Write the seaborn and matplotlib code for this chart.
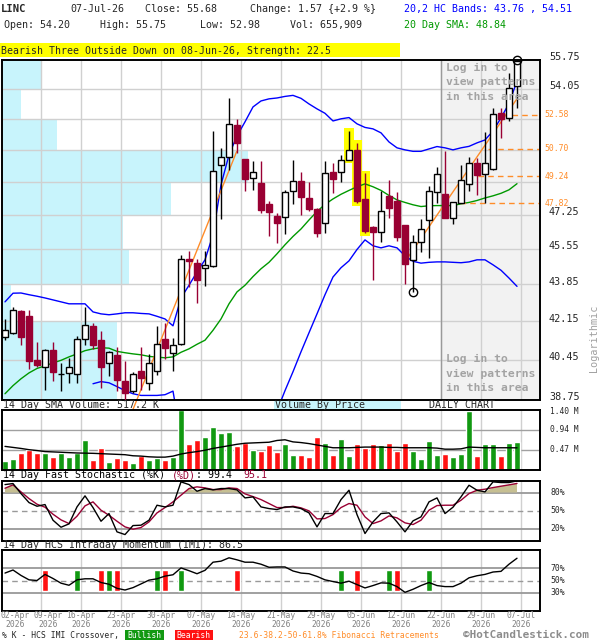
import numpy as np
import pandas as pd
import seaborn as sns
import matplotlib
matplotlib.use("Agg")
import matplotlib.pyplot as plt
from matplotlib import transforms
from matplotlib.patches import Rectangle

# ---------------- values ----------------
date_labels = ['02-Apr', '09-Apr', '16-Apr', '23-Apr', '30-Apr', '07-May', '14-May',
               '21-May', '29-May', '05-Jun', '12-Jun', '22-Jun', '29-Jun', '07-Jul']
date_year = '2026'
tick_idx = [0, 4, 9, 14, 19, 24, 29, 34, 39, 44, 49, 54, 59, 64]

opens = [41.45, 41.65, 42.64, 42.40, 40.45, 40.14, 40.89, 39.84, 39.88, 39.84,
         41.36, 41.95, 41.33, 40.33, 40.67, 39.56, 39.11, 39.98, 39.46, 39.95,
         41.36, 40.74, 41.14, 45.08, 44.86, 44.62, 44.70, 49.81, 50.28, 51.99,
         50.15, 49.13, 48.88, 47.80, 47.20, 47.12, 48.47, 48.99, 48.10, 47.56,
         46.81, 49.44, 49.46, 50.10, 50.64, 48.05, 46.64, 46.37, 48.21, 47.96,
         46.73, 45.02, 45.91, 46.98, 48.43, 48.30, 47.10, 47.86, 48.83, 49.94,
         49.33, 49.60, 52.67, 52.38, 54.20]
highs = [42.25, 42.82, 42.67, 42.67, 41.21, 40.92, 41.21, 40.31, 40.52, 41.51,
         42.82, 42.07, 41.74, 40.85, 41.03, 40.38, 39.91, 41.03, 40.71, 41.95,
         42.07, 41.40, 45.24, 45.47, 45.08, 45.47, 51.68, 50.73, 53.52, 52.33,
         50.15, 50.05, 50.05, 47.95, 47.32, 48.52, 50.10, 49.46, 48.93, 47.58,
         50.05, 49.92, 50.37, 51.69, 51.03, 49.39, 46.66, 48.47, 49.04, 48.42,
         46.75, 46.24, 47.03, 48.73, 49.72, 50.58, 47.91, 49.83, 50.23, 50.19,
         51.63, 52.95, 52.98, 54.97, 55.75]
lows = [41.33, 41.59, 41.11, 40.05, 40.16, 39.18, 39.53, 39.11, 39.46, 39.46,
        41.11, 40.92, 39.25, 39.74, 39.11, 38.76, 39.04, 39.18, 39.18, 39.81,
        40.48, 39.99, 41.10, 43.75, 43.01, 43.78, 44.68, 47.02, 49.56, 50.46,
        48.47, 48.52, 47.35, 46.19, 45.86, 46.27, 47.78, 47.24, 47.45, 46.12,
        46.32, 48.36, 48.95, 50.08, 47.83, 46.32, 44.06, 45.91, 47.10, 45.94,
        43.86, 43.48, 45.42, 45.13, 47.83, 47.08, 46.76, 47.84, 48.47, 48.26,
        47.83, 49.58, 51.31, 52.23, 52.98]
closes = [41.77, 42.67, 41.45, 40.42, 40.24, 40.89, 39.91, 39.86, 40.14, 41.36,
          41.98, 41.11, 40.16, 40.80, 39.60, 39.06, 39.85, 39.67, 40.33, 41.14,
          40.95, 41.10, 45.08, 44.97, 44.06, 44.77, 49.49, 50.25, 52.05, 51.00,
          49.11, 49.44, 47.50, 47.39, 46.84, 48.41, 48.99, 48.14, 47.56, 46.32,
          49.39, 49.08, 50.10, 50.64, 47.96, 46.45, 46.40, 47.44, 47.59, 46.15,
          44.81, 45.91, 46.51, 48.47, 49.35, 47.10, 47.88, 49.02, 49.94, 49.30,
          49.92, 52.61, 52.33, 54.11, 55.68]

sma20 = [39.01, 39.35, 39.64, 39.89, 40.08, 40.19, 40.32, 40.43, 40.58, 40.71,
         40.85, 40.93, 40.98, 40.96, 40.82, 40.76, 40.71, 40.67, 40.60, 40.57,
         40.54, 40.58, 40.78, 40.93, 41.13, 41.31, 41.75, 42.26, 42.95, 43.50,
         43.81, 44.22, 44.59, 44.90, 45.31, 45.75, 46.16, 46.53, 46.98, 47.41,
         47.77, 48.05, 48.29, 48.49, 48.68, 48.83, 48.68, 48.49, 48.23, 48.00,
         47.87, 47.75, 47.66, 47.70, 47.71, 47.71, 47.71, 47.80, 47.87, 47.97,
         48.10, 48.21, 48.34, 48.52, 48.84]
hc_upper = [43.04, 43.44, 43.45, 43.37, 43.30, 43.22, 43.13, 43.04, 42.95, 42.95,
            42.95, 42.58, 42.49, 42.45, 42.49, 42.54, 42.54, 42.51, 42.49, 42.38,
            42.26, 41.95, 43.22, 43.81, 44.44, 45.02, 46.24, 48.78, 50.37, 51.40,
            52.18, 53.02, 53.36, 53.48, 53.53, 53.62, 53.68, 53.51, 53.19, 52.91,
            52.66, 52.23, 52.35, 52.42, 52.07, 51.87, 51.79, 51.57, 51.07, 50.75,
            50.64, 50.56, 50.56, 50.69, 50.82, 50.75, 50.64, 50.75, 50.83, 51.02,
            51.18, 51.67, 52.40, 53.22, 54.51]
hc_lower = [np.nan, np.nan, np.nan, np.nan, np.nan, np.nan, np.nan, np.nan, np.nan, np.nan,
            np.nan, 39.43, 39.52, 39.47, 39.31, 39.14, 39.01, 38.94, 38.94, 38.94,
            38.97, 39.12, 37.20, 36.00, 35.00, 34.00, 33.00, 32.50, 32.50, 33.00,
            34.00, 35.20, 36.40, 37.50, 38.30, 39.14, 39.94, 40.80, 41.64, 42.49,
            43.37, 44.20, 44.64, 44.97, 45.52, 45.99, 45.70, 45.60, 45.70, 45.60,
            45.21, 44.95, 44.86, 44.90, 44.92, 44.92, 44.90, 44.88, 44.92, 45.02,
            45.02, 44.78, 44.52, 44.15, 43.76]

volume_m = [0.211, 0.268, 0.389, 0.478, 0.389, 0.397, 0.308, 0.397, 0.308, 0.397,
            0.697, 0.235, 0.511, 0.187, 0.284, 0.235, 0.162, 0.324, 0.235, 0.284,
            0.235, 0.308, 1.400, 0.600, 0.697, 0.770, 1.013, 0.867, 0.891, 0.551,
            0.640, 0.478, 0.454, 0.576, 0.430, 0.600, 0.357, 0.357, 0.308, 0.770,
            0.624, 0.357, 0.721, 0.332, 0.600, 0.503, 0.600, 0.576, 0.624, 0.454,
            0.624, 0.454, 0.260, 0.673, 0.357, 0.381, 0.308, 0.381, 1.377, 0.332,
            0.600, 0.600, 0.332, 0.624, 0.656]
vol_sma14 = [0.551, 0.527, 0.503, 0.474, 0.454, 0.430, 0.422, 0.414, 0.405, 0.397,
             0.393, 0.389, 0.381, 0.373, 0.365, 0.357, 0.332, 0.324, 0.308, 0.300,
             0.300, 0.324, 0.373, 0.405, 0.430, 0.462, 0.503, 0.535, 0.567, 0.600,
             0.624, 0.632, 0.640, 0.648, 0.689, 0.705, 0.656, 0.640, 0.616, 0.584,
             0.551, 0.519, 0.519, 0.519, 0.527, 0.535, 0.535, 0.535, 0.527, 0.527,
             0.519, 0.519, 0.519, 0.519, 0.511, 0.486, 0.486, 0.494, 0.535, 0.527,
             0.519, 0.519, 0.519, 0.519, 0.517]

stoch_k = [93.2, 94.9, 78.2, 63.2, 57.1, 59.9, 33.8, 22.1, 27.7, 56.0,
           74.4, 54.9, 32.1, 44.9, 14.4, 9.9, 24.9, 25.5, 33.8, 58.8,
           56.0, 58.8, 97.7, 93.2, 82.1, 86.6, 84.4, 86.6, 86.6, 84.4,
           71.0, 72.7, 56.0, 53.2, 51.6, 56.0, 56.0, 53.2, 46.0, 22.7,
           44.9, 44.9, 68.2, 83.8, 43.2, 11.6, 31.0, 44.9, 46.0, 31.0,
           14.4, 32.7, 39.4, 64.4, 71.0, 44.9, 55.5, 72.7, 92.1, 83.8,
           81.0, 97.7, 96.6, 96.6, 99.4]
stoch_d = [87.1, 92.7, 81.0, 69.9, 60.5, 55.5, 43.8, 34.4, 28.2, 40.5,
           57.7, 64.4, 50.5, 42.1, 32.1, 22.7, 18.8, 21.6, 31.0, 46.0,
           54.9, 64.4, 75.5, 86.6, 89.4, 87.7, 84.9, 84.9, 87.7, 86.6,
           77.7, 73.2, 68.2, 61.6, 54.9, 54.9, 57.1, 54.4, 49.4, 36.0,
           36.6, 43.2, 54.9, 61.6, 58.8, 39.4, 28.2, 32.7, 41.0, 37.7,
           29.4, 26.6, 33.8, 50.5, 58.2, 58.8, 58.8, 67.1, 78.2, 83.8,
           85.5, 88.2, 90.5, 92.7, 95.1]
imi = [62.2, 67.2, 58.3, 51.1, 50.0, 60.0, 53.3, 45.6, 42.2, 51.1,
       52.8, 52.8, 46.7, 43.9, 37.2, 34.4, 38.3, 44.4, 50.6, 52.8,
       57.2, 59.4, 70.6, 66.1, 61.1, 66.7, 80.0, 81.7, 87.2, 83.9,
       80.0, 80.0, 76.7, 71.7, 72.2, 72.2, 65.6, 62.2, 61.1, 56.7,
       51.1, 48.3, 45.6, 48.9, 43.3, 37.8, 41.7, 46.1, 45.6, 40.0,
       30.6, 35.6, 41.7, 46.7, 41.7, 40.0, 40.0, 45.6, 54.4, 57.8,
       60.0, 63.9, 65.0, 76.7, 86.5]
bull_cross_idx = [9, 13, 19, 22, 42, 48, 53]
bear_cross_idx = [5, 12, 14, 20, 29, 44, 49]

price_grid = [54.05, 52.35, 50.65, 48.95, 47.25, 45.55, 43.85, 42.15, 40.45]
price_labels = [55.75, 54.05, 47.25, 45.55, 43.85, 42.15, 40.45, 38.75]
vbp_edges = [55.75, 54.05, 52.35, 50.65, 48.95, 47.25, 45.55, 43.85, 42.15, 40.45, 38.75]
vbp_volume = [40, 19, 55, 246, 169, 121, 127, 9, 115, 115]

fib_levels = [52.58, 50.70, 49.24, 47.82]
fib_from_idx = [63.4, 60.4, 59.1, 56.9]
trend1_idx, trend1_price = [15.875, 28.96], [38.26, 50.55]
trend2_idx, trend2_price = [50.0, 64.06], [44.93, 53.53]
swing_idx, swing_price = [51, 64], [43.48, 55.75]
pattern_idx = [43, 44, 45]
login_from_idx = 54.5

df = pd.DataFrame({'open': opens, 'high': highs, 'low': lows, 'close': closes,
                   'sma20': sma20, 'upper': hc_upper, 'lower': hc_lower,
                   'volume': volume_m, 'vol_sma': vol_sma14,
                   'k': stoch_k, 'd': stoch_d, 'imi': imi})
df['idx'] = np.arange(len(df))
df['dir'] = np.where(df['close'] >= df['open'], 'up', 'down')

# ---------------- style ----------------
sns.set_style("white")
plt.rcParams['font.family'] = ['DejaVu Sans Mono', 'DejaVu Sans']
plt.rcParams['axes.linewidth'] = 1.4

CANDLE_DN = '#990033'
ORANGE = '#ff8c28'
GRID = '#d0d0d0'
VOL_UP = '#119911'
VOL_DN = '#ff1111'
XMIN, XMAX = -0.375, 66.875
CHAR_W = 6.02  # px per character of the 7.2pt mono font

W, H = 600, 640
fig = plt.figure(figsize=(W / 100, H / 100), dpi=100)


def panel(top, bottom):
    return fig.add_axes([2 / W, 1 - bottom / H, 538 / W, (bottom - top) / H])


def tidy(a):
    a.set_xlim(XMIN, XMAX)
    a.set_xticks([])
    a.set_yticks([])
    a.set_yticks([], minor=True)
    a.set_xlabel('')
    a.set_ylabel('')
    for s in a.spines.values():
        s.set_color('black')


def ftext(x, y, s, **kw):
    kw.setdefault('va', 'center')
    kw.setdefault('ha', 'left')
    kw.setdefault('fontsize', 7.2)
    fig.text(x / W, 1 - y / H, s, **kw)


def fbox(x0, y0, x1, y1, color):
    fig.add_artist(Rectangle((x0 / W, 1 - y1 / H), (x1 - x0) / W, (y1 - y0) / H,
                             transform=fig.transFigure, color=color, lw=0, zorder=0))


vgrid = [t + 0.5 for t in tick_idx[1:]]

# ---------------- price panel ----------------
ax = panel(60, 400)
ax.set_yscale('log')
blend = transforms.blended_transform_factory(ax.transAxes, ax.transData)
ax.axvspan(login_from_idx, XMAX, color='#f2f2f2', lw=0, zorder=0.2)
for lo, hi, v in zip(vbp_edges[1:], vbp_edges[:-1], vbp_volume):
    ax.add_patch(Rectangle((0, lo), v / max(vbp_volume) * 0.457, hi - lo, transform=blend,
                           color='#c8f4fc', lw=0, zorder=0.3))
for p in price_grid:
    ax.axhline(p, color=GRID, lw=1, zorder=1)
for g in vgrid:
    ax.axvline(g, color=GRID, lw=1, zorder=1)
ax.axvline(login_from_idx, color='#9a9a9a', lw=1, zorder=1.2)

for i in pattern_idx:
    lo, hi = lows[i] * 0.9975, highs[i] * 1.0025
    ax.add_patch(Rectangle((i - 0.62, lo), 1.24, hi - lo, color='#ffff00', lw=0, zorder=1.5))

sns.lineplot(data=df, x='idx', y='upper', color='#0000ff', lw=1, ax=ax, zorder=2)
sns.lineplot(data=df, x='idx', y='lower', color='#0000ff', lw=1, ax=ax, zorder=2)
sns.lineplot(data=df, x='idx', y='sma20', color='#009900', lw=1, ax=ax, zorder=2)

for lvl, st in zip(fib_levels, fib_from_idx):
    ax.plot([st, XMAX], [lvl, lvl], color=ORANGE, lw=1, ls=(0, (4, 3)), zorder=2)
    ax.text(1.008, lvl, f'{lvl:.2f}', transform=blend, color=ORANGE, fontsize=5.9,
            va='center', ha='left')
ax.plot(trend1_idx, trend1_price, color=ORANGE, lw=1, zorder=2.5, clip_on=False)
ax.plot(trend2_idx, trend2_price, color=ORANGE, lw=1, zorder=2.5)

up = df[df['dir'] == 'up']
dn = df[df['dir'] == 'down']
ax.vlines(up['idx'], up['low'], up['high'], color='black', lw=1, zorder=3)
ax.vlines(dn['idx'], dn['low'], dn['high'], color=CANDLE_DN, lw=1, zorder=3)
ax.bar(up['idx'], (up['close'] - up['open']).clip(lower=0.02), bottom=up['open'], width=0.66,
       color='white', edgecolor='black', lw=1, zorder=4)
ax.bar(dn['idx'], dn['open'] - dn['close'], bottom=dn['close'], width=0.7,
       color=CANDLE_DN, edgecolor=CANDLE_DN, lw=1, zorder=4)
ax.plot(swing_idx, swing_price, 'o', mfc='none', mec='black', ms=6, mew=1, ls='none',
        zorder=5, clip_on=False)

ax.set_ylim(38.75, 55.75)
tidy(ax)
lab_tr = transforms.offset_copy(blend, fig=fig, y=2, units='points')
for p in price_labels:
    ax.text(1.0167, p, f'{p:.2f}', transform=lab_tr, fontsize=7.3, va='center', ha='left')

for k, line in enumerate(['Log in to', 'view patterns', 'in this area']):
    ftext(446.5, 67.5 + 14.7 * k, line, color='#a3a3a3', fontweight='bold', fontsize=8.2)
    ftext(446.5, 359 + 14.7 * k, line, color='#a3a3a3', fontweight='bold', fontsize=8.2)
ftext(594, 338, 'Logarithmic', rotation=90, ha='center', color='#a0a0a0', fontsize=7.3)

# ---------------- volume panel ----------------
axv = panel(410, 470)
for g in vgrid:
    axv.axvline(g, color=GRID, lw=1, zorder=0)
for v in [0.47, 0.94]:
    axv.axhline(v, color='#a0a0a0', lw=1, zorder=0.5)
sns.barplot(data=df[df['dir'] == 'up'], x='idx', y='volume', color=VOL_UP,
            native_scale=True, width=0.72, saturation=1, errorbar=None, ax=axv, zorder=2)
sns.barplot(data=df[df['dir'] == 'down'], x='idx', y='volume', color=VOL_DN,
            native_scale=True, width=0.72, saturation=1, errorbar=None, ax=axv, zorder=2)
sns.lineplot(data=df, x='idx', y='vol_sma', color='black', lw=1, ax=axv, zorder=3)
axv.set_ylim(0, 1.40)
tidy(axv)
vblend = transforms.blended_transform_factory(axv.transAxes, axv.transData)
for v, s in [(1.36, '1.40 M'), (0.94, '0.94 M'), (0.47, '0.47 M')]:
    axv.text(1.0186, v, s, transform=vblend, fontsize=5.7, va='center', ha='left')

# ---------------- stochastic panel ----------------
axs = panel(480.5, 540.5)
for g in vgrid:
    axs.axvline(g, color=GRID, lw=1, zorder=0)
lower_kd = np.minimum(df['k'], df['d'])
axs.fill_between(df['idx'], 80, lower_kd, where=lower_kd >= 80, interpolate=True,
                 color='#c6bf92', lw=0, zorder=1)
for v in [80, 20]:
    axs.axhline(v, color='#999999', lw=1.3, zorder=0.5)
axs.axhline(50, color='#999999', lw=1, ls=(0, (4, 3)), zorder=0.5)
sns.lineplot(data=df, x='idx', y='k', color='black', lw=1, ax=axs, zorder=3)
sns.lineplot(data=df, x='idx', y='d', color=CANDLE_DN, lw=1, ax=axs, zorder=2)
axs.set_ylim(0, 100)
tidy(axs)
sblend = transforms.blended_transform_factory(axs.transAxes, axs.transData)
for v in [80, 50, 20]:
    axs.text(1.0186, v, f'{v}%', transform=sblend, fontsize=5.9, va='center', ha='left')

# ---------------- IMI panel ----------------
axi = panel(550, 611)
for g in vgrid:
    axi.axvline(g, color=GRID, lw=1, zorder=0)
for v in [70, 30]:
    axi.axhline(v, color='#999999', lw=1.3, zorder=0.5)
axi.axhline(50, color='#999999', lw=1, ls=(0, (4, 3)), zorder=0.5)
axi.bar(bull_cross_idx, 35, bottom=32, width=0.75, color=VOL_UP, zorder=2)
axi.bar(bear_cross_idx, 35, bottom=32, width=0.75, color=VOL_DN, zorder=2)
sns.lineplot(data=df, x='idx', y='imi', color='black', lw=1, ax=axi, zorder=3)
axi.set_ylim(0, 100)
tidy(axi)
iblend = transforms.blended_transform_factory(axi.transAxes, axi.transData)
for v in [70, 50, 30]:
    axi.text(1.0186, v, f'{v}%', transform=iblend, fontsize=5.9, va='center', ha='left')

# date labels, pushed apart where they would collide
dblend = transforms.blended_transform_factory(axi.transData, fig.transFigure)
prev = -2.8
for t, lab in zip(tick_idx, date_labels):
    c = max(t + 0.5, prev + 4.1)
    prev = c
    axi.text(c, 1 - 615.5 / H, lab, transform=dblend, ha='center', va='center',
             fontsize=5.8, color='#808080')
    axi.text(c, 1 - 624.5 / H, date_year, transform=dblend, ha='center', va='center',
             fontsize=5.8, color='#808080')

# ---------------- header & titles ----------------
ftext(1, 9, 'LINC', fontweight='bold', fontsize=7.6)
ftext(70, 9, '07-Jul-26')
ftext(145, 9, 'Close: 55.68')
ftext(250, 9, 'Change: 1.57 {+2.9 %}')
ftext(4.5, 25, 'Open: 54.20')
ftext(99.5, 25, 'High: 55.75')
ftext(200, 25, 'Low: 52.98')
ftext(290, 25, 'Vol: 655,909')
ftext(404.5, 9, '20,2 HC Bands: 43.76 , 54.51', color='#0000ff')
ftext(404.5, 25, '20 Day SMA: 48.84', color='#009900')

fbox(0, 43.5, 400, 57, '#ffff00')
ftext(1, 50.5, 'Bearish Three Outside Down on 08-Jun-26, Strength: 22.5', fontsize=7.1)

ftext(3, 405, '14 Day SMA Volume: 517.2 K')
fbox(273.5, 400.5, 400.5, 410, '#c8f4fc')
ftext(275, 405, 'Volume By Price')
ftext(429, 405, 'DAILY CHART')

# stochastic title: black and red pieces laid out on the mono character grid
for col, s, c in [(0, '14 Day Fast Stochastic (%K)', 'black'), (28, '(%D)', CANDLE_DN),
                  (32, ': 99.4', 'black'), (40, '95.1', CANDLE_DN)]:
    ftext(3 + col * CHAR_W, 475, s, color=c)
ftext(3, 545, '14 Day HCS Intraday Momentum (IMI): 86.5')

# ---------------- footer ----------------
ftext(1.5, 635.5, '% K - HCS IMI Crossover,', fontsize=5.8)
fbox(124.5, 630, 164, 640, VOL_UP)
ftext(144, 635.5, 'Bullish', ha='center', color='white', fontsize=5.8)
fbox(175, 630, 212.5, 640, VOL_DN)
ftext(193.7, 635.5, 'Bearish', ha='center', color='white', fontsize=5.8)
ftext(239, 635.5, '23.6-38.2-50-61.8% Fibonacci Retracements', color=ORANGE, fontsize=5.8)
ftext(463, 635.5, '\u00a9HotCandlestick.com', color='#8c8c8c', fontweight='bold', fontsize=7.9)

fig.savefig('out.png', dpi=100)
